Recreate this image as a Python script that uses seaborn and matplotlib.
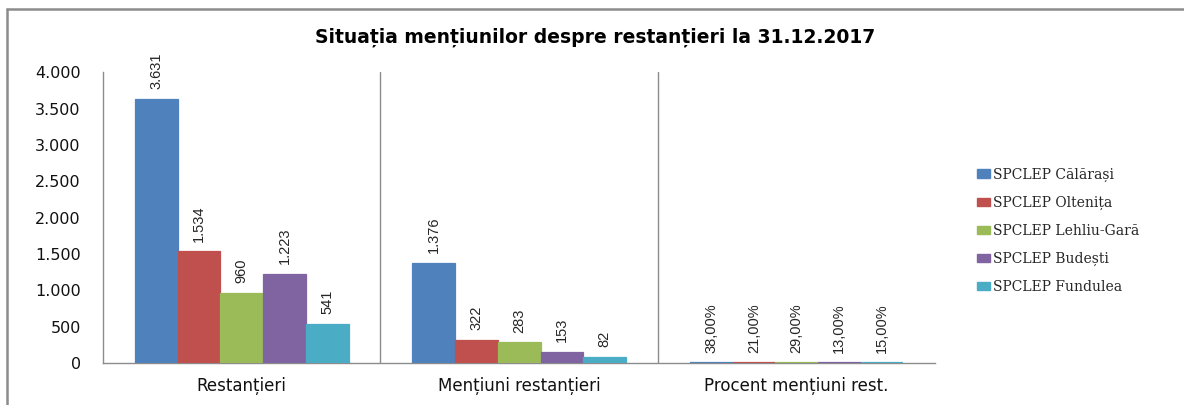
import matplotlib
matplotlib.use("Agg")
import matplotlib.pyplot as plt
import pandas as pd
import seaborn as sns
from matplotlib.lines import Line2D

# data
categories = ["Restanțieri", "Mențiuni restanțieri", "Procent mențiuni rest."]
offices = ["SPCLEP Călărași", "SPCLEP Oltenița", "SPCLEP Lehliu-Gară",
           "SPCLEP Budești", "SPCLEP Fundulea"]
restantieri = [3631, 1534, 960, 1223, 541]
mentiuni = [1376, 322, 283, 153, 82]
procent = [0.38, 0.21, 0.29, 0.13, 0.15]
colors = ["#4F81BD", "#C0504D", "#9BBB59", "#8064A2", "#4BACC6"]

rows = []
for i, off in enumerate(offices):
    rows.append([categories[0], off, restantieri[i]])
    rows.append([categories[1], off, mentiuni[i]])
    rows.append([categories[2], off, procent[i]])
df = pd.DataFrame(rows, columns=["cat", "office", "val"])

sns.set_style("white")
plt.rcParams["font.family"] = ["DejaVu Sans"]

fig = plt.figure(figsize=(11.84, 4.05), dpi=100)
ax = fig.add_axes([0.087, 0.1037, 0.703, 0.718])

sns.barplot(data=df, x="cat", y="val", hue="office", order=categories,
            hue_order=offices, palette=colors, width=0.77, saturation=1,
            errorbar=None, ax=ax, linewidth=0.9, zorder=3)
for cont, c in zip(ax.containers, colors):
    for k, bar in enumerate(cont):
        bar.set_edgecolor(c)
        if k == 2:
            bar.set_linewidth(1.6)  # percent bars are only a thin line

# value labels
def fmt_label(v, k):
    if k == 2:
        return f"{v * 100:.2f}%".replace(".", ",")
    return f"{int(v):,}".replace(",", ".")

for cont in ax.containers:
    labels = []
    for k, bar in enumerate(cont):
        labels.append(fmt_label(bar.get_height(), k))
    ax.bar_label(cont, labels=labels, rotation=90, padding=7,
                 fontsize=10.5, family=["Liberation Sans"])

ax.set_ylim(0, 4000)
ax.set_xlim(-0.5, 2.5)
ax.set_yticks(range(0, 4001, 500))
ax.set_yticklabels([f"{v:,}".replace(",", ".") for v in range(0, 4001, 500)])
ax.tick_params(axis="y", length=0, pad=16, labelsize=11.5, colors="#111111")
ax.tick_params(axis="x", length=0, pad=10, labelsize=12, colors="#111111")
ax.set_xlabel("")
ax.set_ylabel("")

for x in [0.5, 1.5]:
    ax.axvline(x, color="#8c8c8c", lw=1, zorder=1)
sns.despine(ax=ax, top=True, right=True)
for s in ["left", "bottom"]:
    ax.spines[s].set_color("#8c8c8c")
    ax.spines[s].set_linewidth(1)
    ax.spines[s].set_zorder(1)

ax.get_legend().remove()
handles = [plt.Rectangle((0, 0), 1, 1, color=c) for c in colors]
fig.legend(handles, offices, loc="center left", bbox_to_anchor=(0.815, 0.43),
           frameon=False, prop={"family": "DejaVu Serif", "size": 10},
           labelspacing=1.0, handlelength=0.9, handleheight=0.6,
           handletextpad=0.25)

fig.suptitle("Situația mențiunilor despre restanțieri la 31.12.2017",
             x=0.5025, y=0.909, va="center", fontsize=13.5, fontweight="bold",
             color="black")

# outer chart frame (top and left edges visible)
fig.add_artist(Line2D([0.006, 1.0], [0.978, 0.978], color="#8c8c8c", lw=1.8,
                      transform=fig.transFigure))
fig.add_artist(Line2D([0.006, 0.006], [0.978, 0.0], color="#8c8c8c", lw=1.8,
                      transform=fig.transFigure))

fig.savefig("out.png", dpi=100)
